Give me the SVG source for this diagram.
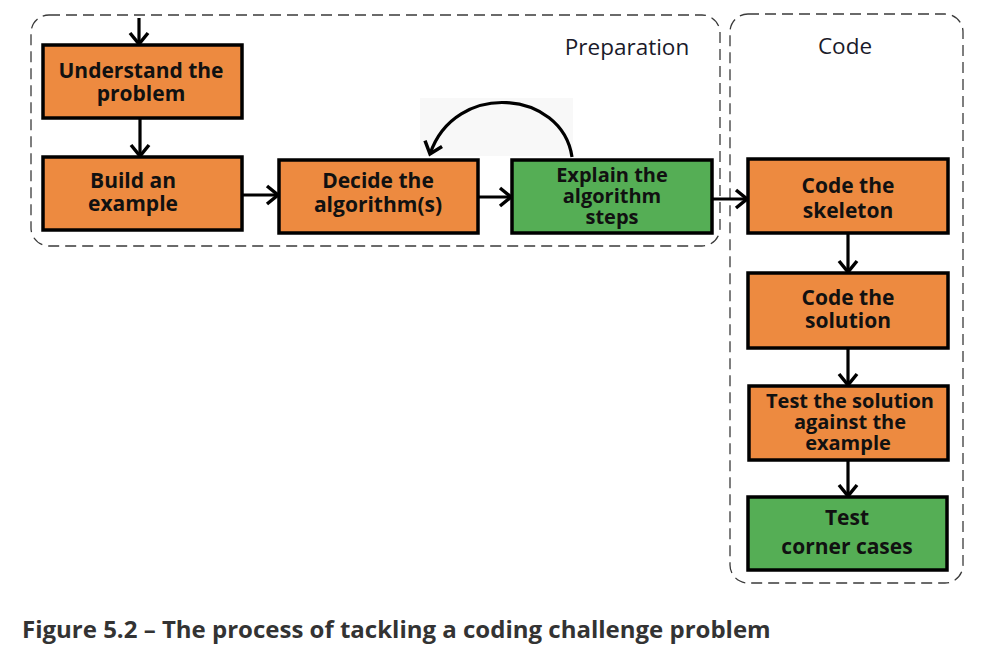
<svg xmlns="http://www.w3.org/2000/svg" width="992" height="668" viewBox="0 0 992 668">
<defs>
<marker id="chev" markerUnits="userSpaceOnUse" markerWidth="18" markerHeight="22" viewBox="0 0 18 22" refX="14" refY="11" orient="auto">
<path d="M3,2 L14,11 L3,20" fill="none" stroke="#000" stroke-width="3.5" stroke-linejoin="miter"/>
</marker>
<style>
.cont{fill:none;stroke:#3a3a3a;stroke-width:1.3;stroke-dasharray:11 6}
.box{stroke:#000;stroke-width:3.5}
.or{fill:#ED8A40}
.gr{fill:#55AE55}
.t{font-family:"Open Sans","Noto Sans",sans-serif;font-weight:bold;font-size:21px;fill:#111;text-anchor:middle}
.t3{font-size:20px}
.lab{font-family:"Open Sans","Noto Sans",sans-serif;font-size:22.5px;fill:#1a1a2a;text-anchor:middle}
.ln{fill:none;stroke:#000;stroke-width:3.2}
</style>
</defs>
<rect width="992" height="668" fill="#fff"/>
<g id="containers">
<rect class="cont" x="31" y="15" width="689" height="231" rx="18"/>
<rect class="cont" x="730" y="14" width="233" height="569" rx="18"/>
<text class="lab" x="627" y="55">Preparation</text>
<text class="lab" x="845" y="54">Code</text>
</g>
<rect x="420" y="98" width="153" height="58" fill="#f8f8f8"/>
<g id="connectors">
<line class="ln" x1="139" y1="18" x2="139" y2="44" marker-end="url(#chev)"/>
<line class="ln" x1="140" y1="118" x2="140" y2="156" marker-end="url(#chev)"/>
<line class="ln" x1="242" y1="195" x2="278" y2="195" marker-end="url(#chev)"/>
<line class="ln" x1="478" y1="197" x2="511" y2="197" marker-end="url(#chev)"/>
<line class="ln" x1="712" y1="199" x2="747" y2="199" marker-end="url(#chev)"/>
<line class="ln" x1="848" y1="233" x2="848" y2="272" marker-end="url(#chev)"/>
<line class="ln" x1="848" y1="348" x2="848" y2="385" marker-end="url(#chev)"/>
<line class="ln" x1="848" y1="460" x2="848" y2="496" marker-end="url(#chev)"/>
<path class="ln" d="M572,157 C562,90 455,80 430,154" marker-end="url(#chev)"/>
</g>
<g id="understand">
<rect class="box or" x="43" y="45" width="199" height="73"/>
<text class="t" x="141" y="78">Understand the</text>
<text class="t" x="141" y="101">problem</text>
</g>
<g id="build">
<rect class="box or" x="43" y="157" width="199" height="73"/>
<text class="t" x="133" y="188">Build an</text>
<text class="t" x="133" y="211">example</text>
</g>
<g id="decide">
<rect class="box or" x="279" y="160" width="199" height="73"/>
<text class="t" x="378" y="188">Decide the</text>
<text class="t" x="378" y="212">algorithm(s)</text>
</g>
<g id="explain">
<rect class="box gr" x="512" y="160" width="200" height="73"/>
<text class="t t3" x="612" y="182">Explain the</text>
<text class="t t3" x="612" y="203">algorithm</text>
<text class="t t3" x="612" y="224">steps</text>
</g>
<g id="skeleton">
<rect class="box or" x="748" y="159" width="200" height="74"/>
<text class="t" x="848" y="193">Code the</text>
<text class="t" x="848" y="218">skeleton</text>
</g>
<g id="solution">
<rect class="box or" x="748" y="273" width="200" height="75"/>
<text class="t" x="848" y="305">Code the</text>
<text class="t" x="848" y="328">solution</text>
</g>
<g id="test-example">
<rect class="box or" x="749" y="386" width="199" height="74"/>
<text class="t t3" x="850" y="408">Test the solution</text>
<text class="t t3" x="850" y="429">against the</text>
<text class="t t3" x="848" y="450">example</text>
</g>
<g id="corner">
<rect class="box gr" x="748" y="497" width="199" height="73"/>
<text class="t" x="847" y="525">Test</text>
<text class="t" x="847" y="554">corner cases</text>
</g>
<text x="22" y="638" font-family="'Open Sans','Noto Sans',sans-serif" font-weight="bold" font-size="24" fill="#333">Figure 5.2 – The process of tackling a coding challenge problem</text>
</svg>
